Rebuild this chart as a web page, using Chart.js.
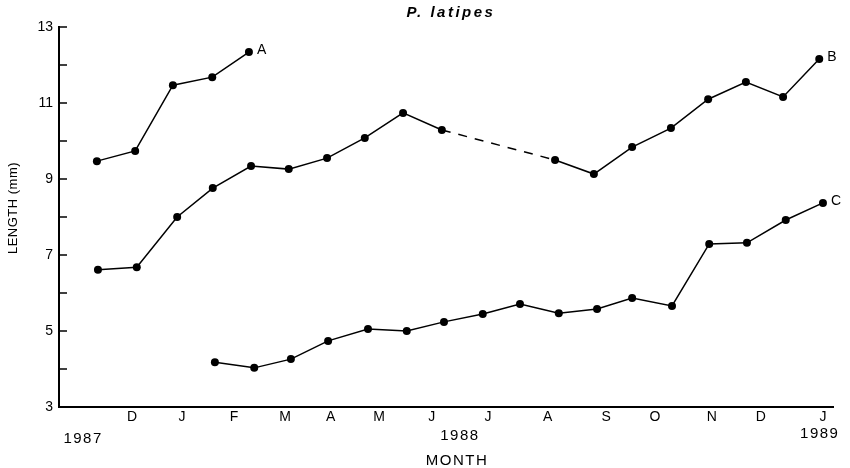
<!DOCTYPE html>
<html>
<head>
<meta charset="utf-8">
<script src="https://cdn.jsdelivr.net/npm/chart.js@4"></script>
<style>
  body { margin: 0; background: #fff; }
  #wrap { width: 850px; height: 468px; }
</style>
</head>
<body>
<div id="wrap"><canvas id="grafico"></canvas></div>
<script>
// x in months, 0 = the "D" tick (Dec 1987)
var mesesPos = [0, 0.94, 1.92, 2.88, 3.74, 4.65, 5.64, 6.70, 7.82, 8.92, 9.84, 10.91, 11.83, 13.0];
var mesesTxt = ["D", "J", "F", "M", "A", "M", "J", "J", "A", "S", "O", "N", "D", "J"];
var anosPos = [-0.92, 6.17, 12.94];
var anosTxt = ["1987", "1988", "1989"];

var xA = [-0.66, 0.06, 0.77, 1.51, 2.20];
var compA = [9.47, 9.74, 11.47, 11.68, 12.34];

var xB = [-0.64, 0.09, 0.85, 1.52, 2.24, 2.95, 3.67, 4.38, 5.10, 5.83, 7.96, 8.69, 9.41, 10.14, 10.84, 11.55, 12.25, 12.93];
var compB = [6.61, 6.68, 8.00, 8.76, 9.34, 9.26, 9.55, 10.08, 10.74, 10.29, 9.50, 9.13, 9.84, 10.34, 11.10, 11.55, 11.16, 12.16];
var tracoB = 9; // segment after this point is dashed

var xC = [1.56, 2.30, 2.99, 3.69, 4.44, 5.17, 5.87, 6.60, 7.30, 8.03, 8.75, 9.41, 10.16, 10.86, 11.57, 12.30, 13.00];
var compC = [4.18, 4.03, 4.26, 4.74, 5.05, 5.00, 5.24, 5.45, 5.71, 5.47, 5.58, 5.87, 5.66, 7.29, 7.32, 7.92, 8.37];

var nomes = ["A", "B", "C"];

const pontos = (xs, ys) => xs.map((v, i) => ({ x: v, y: ys[i] }));
const fonte = "'Liberation Sans', Arial, sans-serif";

const serie = (nome, dados) => ({
  label: nome,
  data: dados,
  borderColor: "#000",
  backgroundColor: "#000",
  borderWidth: 1.5,
  pointRadius: 4,
  pointHoverRadius: 4,
  pointBorderWidth: 0,
  tension: 0
});

var dsB = serie("B", pontos(xB, compB));
dsB.segment = { borderDash: (c) => c.p0DataIndex === tracoB ? [9, 8] : undefined };

const textos = {
  id: "textos",
  afterDraw(chart) {
    var ctx = chart.ctx;
    var xs = chart.scales.x, ys = chart.scales.y, area = chart.chartArea;
    ctx.save();
    ctx.fillStyle = "#000";
    ctx.strokeStyle = "#000";

    // inner ticks on the y axis
    ctx.lineWidth = 1.5;
    for (var v = 3; v <= 13; v++) {
      var py = ys.getPixelForValue(v);
      ctx.beginPath();
      ctx.moveTo(area.left, py);
      ctx.lineTo(area.left + 8, py);
      ctx.stroke();
    }

    // title
    ctx.textAlign = "center";
    ctx.textBaseline = "middle";
    ctx.font = "italic bold 15px " + fonte;
    ctx.letterSpacing = "2.5px";
    ctx.fillText("P. latipes", 451, 13);

    // years + axis title
    ctx.font = "15px " + fonte;
    ctx.letterSpacing = "1.5px";
    var anosY = [439, 436, 434];
    anosTxt.forEach((t, i) => ctx.fillText(t, xs.getPixelForValue(anosPos[i]), anosY[i]));
    ctx.fillText("MONTH", 457, 461);

    ctx.save();
    ctx.translate(13, 208);
    ctx.rotate(-Math.PI / 2);
    ctx.font = "13px " + fonte;
    ctx.letterSpacing = "0.5px";
    ctx.fillText("LENGTH (mm)", 0, 0);
    ctx.restore();

    // series letters
    ctx.font = "14px " + fonte;
    ctx.letterSpacing = "0px";
    ctx.textAlign = "left";
    chart.data.datasets.forEach((ds, i) => {
      var ult = ds.data[ds.data.length - 1];
      ctx.fillText(nomes[i], xs.getPixelForValue(ult.x) + 8, ys.getPixelForValue(ult.y) - 2);
    });
    ctx.restore();
  }
};

new Chart(document.getElementById("grafico"), {
  type: "line",
  data: {
    datasets: [
      serie("A", pontos(xA, compA)),
      dsB,
      serie("C", pontos(xC, compC))
    ]
  },
  options: {
    responsive: true,
    maintainAspectRatio: false,
    animation: false,
    layout: { padding: { top: 27, right: 17, left: 0, bottom: 0 } },
    plugins: {
      legend: { display: false },
      title: { display: false },
      tooltip: { enabled: false }
    },
    scales: {
      x: {
        type: "linear",
        min: -1.373,
        max: 13.189,
        afterBuildTicks: (s) => { s.ticks = mesesPos.map((v) => ({ value: v })); },
        afterFit: (s) => { s.height = 61; },
        grid: { display: false, drawTicks: false },
        border: { display: true, color: "#000", width: 2 },
        ticks: {
          autoSkip: false,
          maxRotation: 0,
          padding: 2,
          color: "#000",
          font: { family: fonte, size: 14 },
          callback: (v, i) => mesesTxt[i]
        }
      },
      y: {
        min: 3,
        max: 13,
        afterFit: (s) => { s.width = 59; },
        grid: { display: false, drawTicks: false },
        border: { display: true, color: "#000", width: 2 },
        ticks: {
          stepSize: 1,
          padding: 6,
          color: "#000",
          font: { family: fonte, size: 14 },
          callback: (v) => (v % 2 === 1 ? v : "")
        }
      }
    }
  },
  plugins: [textos]
});
</script>
</body>
</html>
